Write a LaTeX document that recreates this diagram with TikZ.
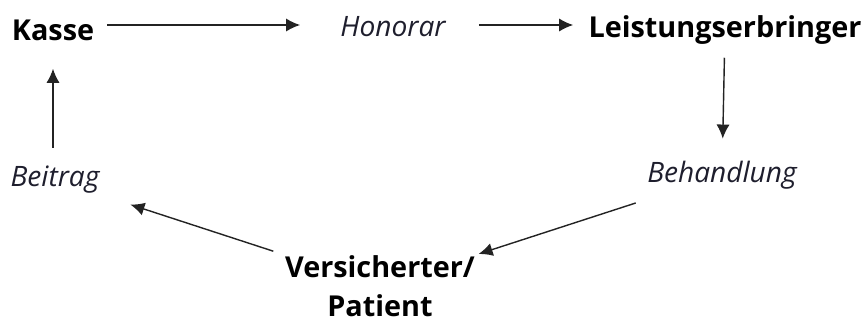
\documentclass[tikz,border=0pt]{standalone}
\usepackage{fontspec}
\setmainfont{Open Sans}
\usetikzlibrary{arrows.meta}
\definecolor{flowgray}{RGB}{30,30,45}
\definecolor{pfeilgray}{RGB}{35,35,35}

\begin{document}
\begin{tikzpicture}[x=0.02cm,y=-0.02cm,
        akteur/.style={font=\fontsize{16.4}{22}\selectfont\bfseries,inner sep=0pt},
        fluss/.style={font=\fontsize{16}{20}\selectfont\itshape,text=flowgray,inner sep=0pt},
        pfeil/.style={draw=pfeilgray,line width=0.8pt,-{Latex[length=8pt,width=7.5pt]}}]
        \useasboundingbox (0,0) rectangle (867,321);

        \node[akteur] (kasse) at (53,30) {Kasse};
        \node[fluss] (honorar) at (393,27) {Honorar};
        \node[akteur] (leistung) at (725,30) {Leistungserbringer};
        \node[fluss] (behandlung) at (722,175) {Behandlung};
        \node[akteur,align=center] (patient) at (380,286) {Versicherter/\\Patient};
        \node[fluss] (beitrag) at (55,180) {Beitrag};

        \draw[pfeil,shorten <=0.26cm,shorten >=0.8cm] ([yshift=0.1cm]kasse.east) -- ([yshift=0.1cm]kasse.east -| honorar.west);
        \draw[pfeil,shorten <=0.66cm,shorten >=0.3cm] ([yshift=0.1cm]kasse.east -| honorar.east) -- ([yshift=0.1cm]kasse.east -| leistung.west);
        \draw[pfeil,shorten <=0.26cm,shorten >=0.44cm] (leistung) -- (behandlung);
        \draw[pfeil,shorten <=0.88cm,shorten >=0.08cm] (behandlung) -- (patient);
        \draw[pfeil,shorten <=0.26cm,shorten >=0.68cm] (patient) -- (beitrag);
        \draw[pfeil,shorten <=0.36cm,shorten >=0.56cm] (beitrag.north -| kasse) -- (kasse);

    \end{tikzpicture}
\end{document}
